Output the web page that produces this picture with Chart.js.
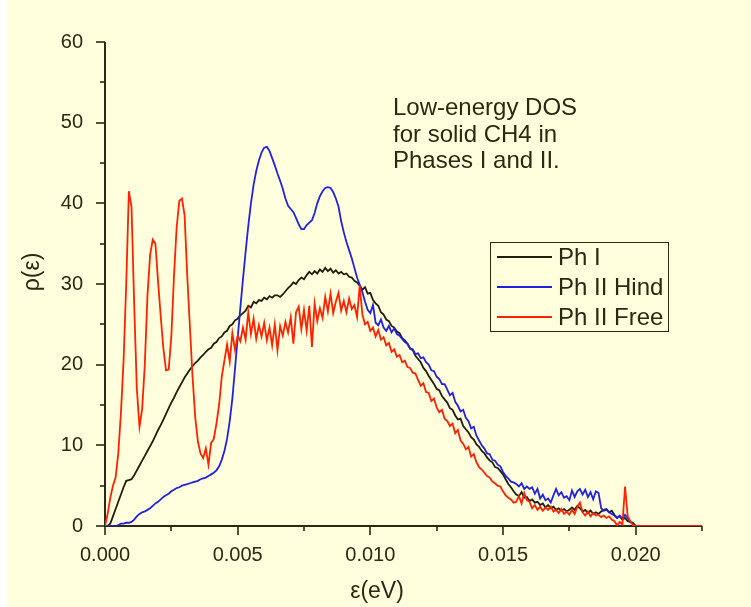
<!DOCTYPE html>
<html>
<head>
<meta charset="utf-8">
<script src="https://cdn.jsdelivr.net/npm/chart.js@4.4.1/dist/chart.umd.min.js"></script>
<style>
  html, body { margin: 0; padding: 0; background: #FFFFDD; }
  #wrap { width: 751px; height: 607px; }
</style>
</head>
<body>
<div id="wrap"><canvas id="dos" width="751" height="607"></canvas></div>
<script>
// energy grid: 0 .. 0.0200 eV in steps of 0.0001, plus a flat tail point
const E_STEP = 0.0001;
const E_TAIL = 0.0225;

const phI = [
  0, 0, 0.3, 1.2, 2.1, 3.0, 3.9, 4.8, 5.6, 5.7,
  5.8, 6.3, 6.9, 7.5, 8.1, 8.7, 9.3, 9.9, 10.5, 11.2,
  11.9, 12.5, 13.2, 13.9, 14.6, 15.3, 15.9, 16.6, 17.2, 17.8,
  18.4, 18.9, 19.4, 19.8, 20.2, 20.5, 20.9, 21.2, 21.6, 21.9,
  22.1, 22.6, 22.8, 23.3, 23.5, 24.0, 24.2, 24.8, 25.0, 25.5,
  25.7, 26.1, 26.4, 26.7, 27.3, 27.1, 27.8, 27.6, 28.0, 27.9,
  28.3, 28.1, 28.5, 28.3, 28.6, 28.6, 28.4, 28.7, 29.1, 29.5,
  29.8, 30.2, 30.0, 30.5, 30.8, 30.6, 31.1, 31.5, 31.2, 31.6,
  31.3, 31.8, 31.5, 32.0, 31.6, 31.9, 31.4, 31.7, 31.3, 31.5,
  31.2, 31.3, 30.9, 30.8, 30.4, 30.2, 29.8, 29.3, 29.6, 28.8,
  28.9, 28.0, 27.6, 27.3, 26.5, 26.2, 25.6, 25.4, 24.8, 24.6,
  24.1, 23.9, 23.3, 23.0, 22.6, 22.0, 21.8, 21.1, 20.7, 20.3,
  19.6, 19.2, 18.6, 18.1, 17.6, 17.0, 16.8, 16.1, 15.7, 15.3,
  14.6, 14.4, 13.7, 13.2, 13.3, 12.4, 12.0, 11.6, 11.0, 10.7,
  10.1, 9.8, 9.3, 9.0, 8.5, 8.1, 7.9, 7.3, 7.2, 6.8,
  6.4, 5.8, 5.2, 4.8, 4.3, 3.9, 3.7, 4.2, 3.5, 3.6,
  3.1, 3.3, 2.9, 3.0, 2.6, 2.8, 2.3, 2.6, 2.2, 2.4,
  2.0, 2.2, 1.9, 2.1, 1.8, 2.0, 2.3, 2.0, 2.5, 2.2,
  1.8, 2.0, 1.6, 1.9, 1.5, 1.7, 1.5, 1.8, 2.0, 2.1,
  1.7, 1.9, 1.4, 1.0, 1.2, 0.8, 1.0, 0.6, 0.5, 0.4, 0,
  0
];

const phIIHind = [
  0, 0, 0, 0, 0, 0.1, 0.3, 0.3, 0.4, 0.4,
  0.5, 0.8, 1.2, 1.5, 1.7, 1.8, 2.0, 2.2, 2.5, 2.8,
  3.0, 3.3, 3.6, 3.8, 4.0, 4.3, 4.5, 4.7, 4.8, 5.0,
  5.1, 5.2, 5.3, 5.4, 5.5, 5.6, 5.8, 5.9, 6.0, 6.2,
  6.4, 6.6, 6.9, 7.4, 8.2, 9.3, 10.8, 13.0, 15.8, 19.5,
  23.3, 27.0, 30.6, 34.0, 37.2, 40.0, 42.3, 44.0, 45.3, 46.3,
  46.9, 47.0, 46.5, 45.6, 44.7, 43.7, 42.8, 41.8, 40.6, 39.7,
  39.3, 38.9, 38.2, 37.4, 36.8, 36.8, 37.3, 37.6, 37.9, 38.8,
  40.0, 40.9, 41.5, 41.9, 42.0, 41.9, 41.4, 40.6, 39.6, 37.8,
  36.4, 35.2, 34.2, 33.2, 32.0, 30.8, 29.9, 29.0, 27.8, 26.8,
  26.4, 27.4, 25.2, 24.9, 25.6, 24.6, 24.2, 24.8, 24.0, 24.5,
  23.8, 23.6, 23.2, 22.8, 22.6, 22.0, 21.9, 21.3, 21.4, 20.8,
  20.9, 20.3, 20.0, 19.3, 19.2, 18.5, 18.2, 17.6, 17.6, 16.9,
  16.2, 16.5, 15.4, 14.9, 14.2, 14.4, 13.4, 13.0, 12.1, 12.3,
  11.2, 10.6, 10.0, 9.6, 9.0, 8.9, 8.2, 8.1, 7.6, 7.4,
  6.7, 6.2, 5.9, 5.5, 5.4, 5.2, 4.9, 5.3, 4.6, 4.9,
  4.6, 4.8, 4.0, 4.6, 3.4, 3.9, 3.2, 3.4, 2.9, 3.8,
  4.6, 3.8, 4.2, 3.5, 3.7, 3.2, 4.4, 3.6, 4.3, 4.6,
  3.9, 4.5, 3.6, 4.2, 3.3, 4.3, 4.1, 2.2, 1.9, 2.0,
  1.7, 1.5, 1.3, 1.0, 1.3, 0.9, 1.4, 1.0, 0.5, 0.2, 0,
  0
];

const phIIFree = [
  0, 1.5, 3.5, 5.0, 6.0, 9.0, 14.0, 20.5, 30.0, 41.5,
  39.5, 27.5, 17.0, 12.3, 14.5, 20.0, 28.5, 33.6, 35.5, 35.0,
  30.3, 26.0, 22.0, 19.3, 19.4, 23.5, 31.0, 37.0, 40.3, 40.6,
  38.5, 31.0, 24.7, 18.5, 13.5, 10.5, 9.0, 8.4, 9.6, 7.6,
  10.3, 10.8, 12.7, 15.0, 18.5, 20.5, 22.5, 20.4, 23.9, 21.8,
  23.6, 22.9, 24.6, 23.1, 26.5, 23.8, 25.7, 23.2, 24.9, 23.5,
  25.2, 23.0, 24.6, 22.4, 25.0, 21.8, 24.8, 23.6, 25.3, 24.0,
  25.9, 22.6, 26.5, 27.2, 24.4, 26.8, 24.2, 27.3, 22.2, 27.6,
  25.4, 27.0, 25.8, 28.4, 26.6, 28.8, 26.4, 27.8, 28.9, 26.7,
  27.9, 26.5, 28.2, 26.9, 27.4, 25.9, 29.8, 26.2, 25.0, 25.3,
  24.2, 24.6, 23.5, 24.3, 23.1, 23.4, 22.4, 22.7, 21.6, 21.9,
  21.0, 21.2, 20.3, 20.5, 19.7, 19.6, 19.0, 18.9, 18.1, 17.4,
  17.7, 16.6, 16.5, 15.5, 15.8, 14.7, 14.1, 14.4, 13.3, 13.0,
  12.4, 12.7, 11.5, 11.9, 10.6, 10.2, 9.5, 9.8, 8.6, 8.9,
  7.9, 7.3, 7.0, 6.6, 6.2, 6.0, 5.5, 5.3, 5.0, 4.9,
  4.3, 3.8, 3.5, 3.3, 2.9, 3.0, 3.7, 2.8, 4.1, 3.2,
  3.0, 2.2, 2.6, 2.0, 2.4, 1.9, 2.3, 2.0, 2.4, 1.8,
  2.0, 1.6, 2.1, 1.5, 1.8, 1.4, 2.0, 1.5, 2.4, 2.9,
  1.7, 1.3, 1.8, 1.2, 1.6, 1.3, 1.4, 1.1, 1.3, 1.0,
  1.2, 0.8, 0.6, 0.1, 0.5, 0.2, 4.9, 1.2, 0.6, 0.1, 0,
  0
];

const yTicks = [0, 10, 20, 30, 40, 50, 60];
const xTickLabels = ['0.000', '0.005', '0.010', '0.015', '0.020'];
const seriesNames = ['Ph I', 'Ph II Hind', 'Ph II Free'];
const noteLines = ['Low-energy DOS', 'for solid CH4 in', 'Phases I and II.'];

const energies = phI.map((_, i) => i < phI.length - 1 ? +(i * E_STEP).toFixed(4) : E_TAIL);
const pts = arr => arr.map((v, i) => ({ x: energies[i], y: v }));

const INK = '#2a2a14';
const FONT = '"Liberation Sans", Arial, sans-serif';

const decor = {
  id: 'decor',
  beforeDraw(chart) {
    const c = chart.ctx;
    c.save();
    c.fillStyle = '#ffffff';
    c.fillRect(0, 0, chart.width, chart.height);
    c.fillStyle = '#FFFFDD';
    c.fillRect(8, 0, chart.width - 8, chart.height);
    c.restore();
  },
  beforeDatasetsDraw(chart) {
    const c = chart.ctx, xs = chart.scales.x, ys = chart.scales.y;
    const a = chart.chartArea;
    c.save();
    c.strokeStyle = INK;
    c.lineWidth = 2;
    c.beginPath();
    c.moveTo(a.left, a.top); c.lineTo(a.left, a.bottom); c.lineTo(a.right, a.bottom);
    c.stroke();
    c.lineWidth = 1.6;
    for (let k = 0; k <= 12; k++) {
      const y = Math.round(ys.getPixelForValue(k * 5));
      const len = k % 2 === 0 ? 9 : 5;
      c.beginPath(); c.moveTo(a.left, y); c.lineTo(a.left - len, y); c.stroke();
    }
    for (let k = 0; k <= 9; k++) {
      const x = Math.round(xs.getPixelForValue(k * 0.0025));
      const len = k % 2 === 0 ? 9 : 5;
      c.beginPath(); c.moveTo(x, a.bottom); c.lineTo(x, a.bottom + len); c.stroke();
    }
    c.restore();
  },
  afterDraw(chart) {
    const c = chart.ctx;
    c.save();
    c.fillStyle = INK;
    // axis titles
    c.font = '23px ' + FONT;
    c.textAlign = 'center';
    c.textBaseline = 'middle';
    c.fillText('ε(eV)', 377, 592);
    c.save();
    c.translate(33, 272);
    c.rotate(-Math.PI / 2);
    c.fillText('ρ(ε)', 0, 0);
    c.restore();
    // note
    c.font = '24px ' + FONT;
    c.textAlign = 'left';
    c.textBaseline = 'alphabetic';
    noteLines.forEach((t, i) => c.fillText(t, 393, 115 + i * 26.5));
    // legend
    c.strokeStyle = INK;
    c.lineWidth = 1;
    c.strokeRect(490.5, 242.5, 178, 89);
    c.textBaseline = 'middle';
    chart.data.datasets.forEach((ds, i) => {
      const y = 257 + i * 30;
      c.strokeStyle = ds.borderColor;
      c.lineWidth = 1.8;
      c.beginPath(); c.moveTo(497, y); c.lineTo(552, y); c.stroke();
      c.fillText(ds.label, 558, y + 1);
    });
    c.restore();
  }
};

new Chart(document.getElementById('dos'), {
  type: 'line',
  data: {
    datasets: [
      { label: seriesNames[0], data: pts(phI), borderColor: '#1e1e0c', order: 3 },
      { label: seriesNames[1], data: pts(phIIHind), borderColor: '#2222dd', order: 2 },
      { label: seriesNames[2], data: pts(phIIFree), borderColor: '#ff2200', order: 1 }
    ]
  },
  options: {
    responsive: false,
    animation: false,
    events: [],
    layout: { padding: { left: 0, right: 49, top: 42, bottom: 0 } },
    elements: {
      point: { radius: 0 },
      line: { borderWidth: 1.8, tension: 0 }
    },
    plugins: { legend: { display: false }, tooltip: { enabled: false } },
    scales: {
      x: {
        type: 'linear',
        min: 0,
        max: E_TAIL,
        grid: { display: false },
        border: { display: false },
        afterFit: s => { s.height = 81; },
        ticks: {
          stepSize: 0.005,
          includeBounds: false,
          padding: 9,
          autoSkip: false,
          color: INK,
          font: { family: FONT, size: 20 },
          maxRotation: 0,
          callback: v => {
            const k = Math.round(v / 0.005);
            return Math.abs(v - k * 0.005) < 1e-7 && xTickLabels[k] ? xTickLabels[k] : '';
          }
        }
      },
      y: {
        min: yTicks[0],
        max: yTicks[yTicks.length - 1],
        grid: { display: false },
        border: { display: false },
        afterFit: s => { s.width = 105; },
        ticks: {
          stepSize: 10,
          padding: 14,
          color: INK,
          font: { family: FONT, size: 20 }
        }
      }
    }
  },
  plugins: [decor]
});
</script>
</body>
</html>
